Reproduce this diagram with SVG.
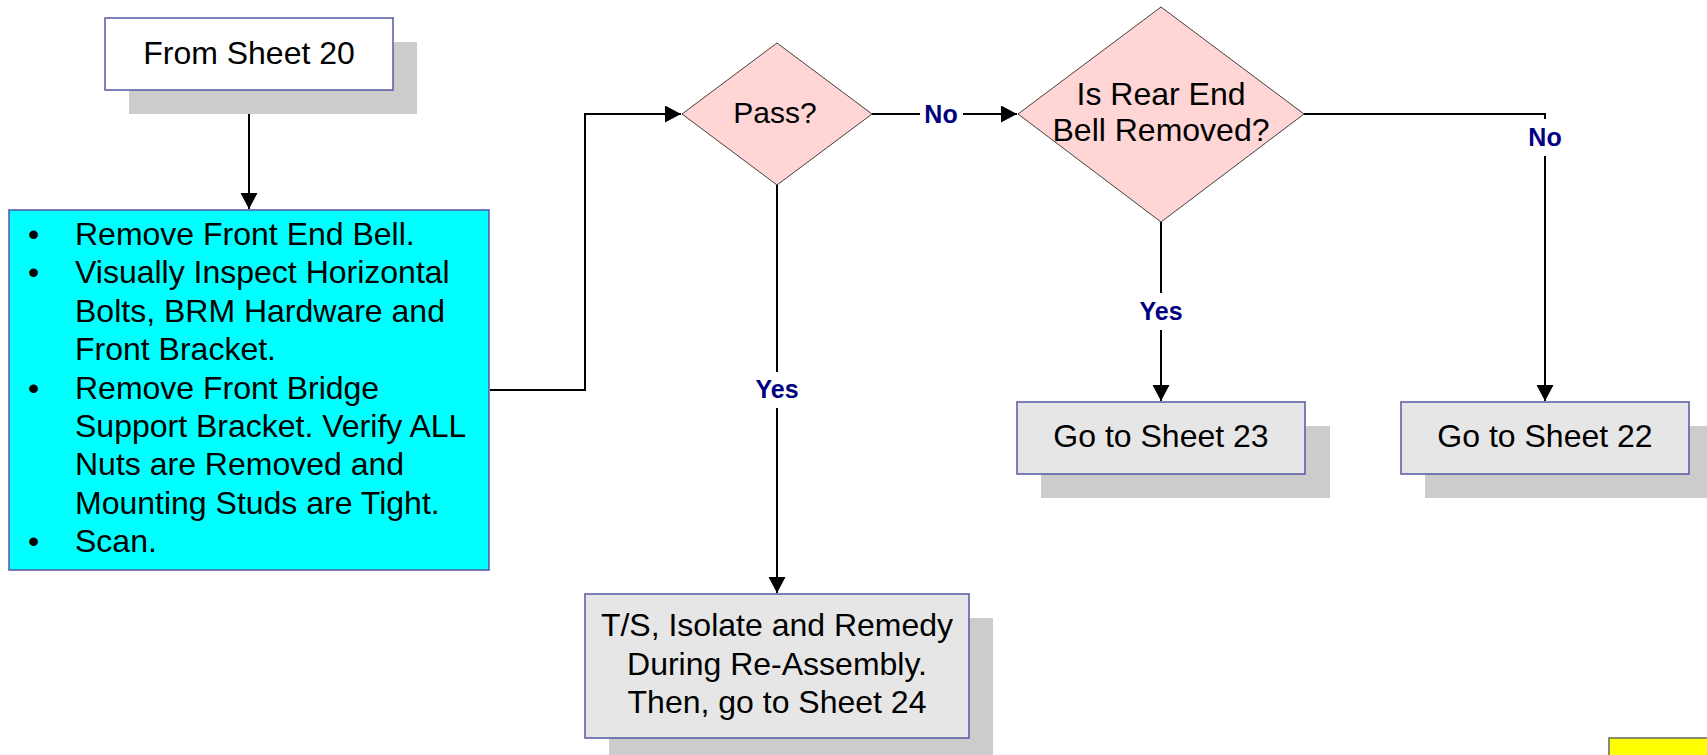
<svg xmlns="http://www.w3.org/2000/svg" width="1707" height="755" viewBox="0 0 1707 755">
<defs>
<style>
.shadow{fill:#cccccc;stroke:none}
.box{stroke:#5656a8;stroke-width:1.5}
.white{fill:#ffffff}
.gray{fill:#e6e6e6}
.cyan{fill:#00ffff}
.dia{fill:#ffd5d5;stroke:#404040;stroke-width:1}
.t{font-family:"Liberation Sans",Arial,sans-serif;font-size:32px;fill:#000000}
.c{text-anchor:middle}
.lbl{font-family:"Liberation Sans",Arial,sans-serif;font-size:25px;font-weight:bold;fill:#000080;text-anchor:middle}
.ln{fill:none;stroke:#000000;stroke-width:2}
</style>
<marker id="arr" markerUnits="userSpaceOnUse" markerWidth="17" markerHeight="17" refX="16" refY="8.5" orient="auto" viewBox="0 0 17 17">
<path d="M0,0 L16,8.5 L0,17 Z" fill="#000000"/>
</marker>
</defs>
<rect width="1707" height="755" fill="#ffffff"/>

<g id="connectors">
<path class="ln" d="M249,114 L249,209" marker-end="url(#arr)"/>
<path class="ln" d="M490,390 L585,390 L585,114 L681,114" marker-end="url(#arr)"/>
<path class="ln" d="M872,114 L920,114"/>
<path class="ln" d="M963,114 L1017,114" marker-end="url(#arr)"/>
<path class="ln" d="M777,185 L777,372"/>
<path class="ln" d="M777,408 L777,593" marker-end="url(#arr)"/>
<path class="ln" d="M1161,222 L1161,293"/>
<path class="ln" d="M1161,330 L1161,401" marker-end="url(#arr)"/>
<path class="ln" d="M1304,114 L1545,114 L1545,119"/>
<path class="ln" d="M1545,156 L1545,401" marker-end="url(#arr)"/>
<text class="lbl" x="941" y="123">No</text>
<text class="lbl" x="777" y="398">Yes</text>
<text class="lbl" x="1161" y="320">Yes</text>
<text class="lbl" x="1545" y="146">No</text>
</g>

<g id="from20">
<rect class="shadow" x="129" y="42" width="288" height="72"/>
<rect class="box white" x="105" y="18" width="288" height="72"/>
<text class="t c" x="249" y="64">From Sheet 20</text>
</g>

<g id="steps">
<rect class="box cyan" x="9" y="210" width="480" height="360"/>
<text class="t" x="28" y="245">•</text>
<text class="t" x="75" y="245">Remove Front End Bell.</text>
<text class="t" x="28" y="283.4">•</text>
<text class="t" x="75" y="283.4">Visually Inspect Horizontal</text>
<text class="t" x="75" y="321.8">Bolts, BRM Hardware and</text>
<text class="t" x="75" y="360.2">Front Bracket.</text>
<text class="t" x="28" y="398.6">•</text>
<text class="t" x="75" y="398.6">Remove Front Bridge</text>
<text class="t" x="75" y="437">Support Bracket. Verify ALL</text>
<text class="t" x="75" y="475.4">Nuts are Removed and</text>
<text class="t" x="75" y="513.8">Mounting Studs are Tight.</text>
<text class="t" x="28" y="552.2">•</text>
<text class="t" x="75" y="552.2">Scan.</text>
</g>

<g id="pass">
<polygon class="dia" points="777,43 872,114 777,185 682,114"/>
<text class="t c" x="775" y="123" style="font-size:30px">Pass?</text>
</g>

<g id="rear">
<polygon class="dia" points="1161,7 1304,114 1161,222 1018,114"/>
<text class="t c" x="1161" y="105">Is Rear End</text>
<text class="t c" x="1161" y="141">Bell Removed?</text>
</g>

<g id="ts">
<rect class="shadow" x="609" y="618" width="384" height="137"/>
<rect class="box gray" x="585" y="594" width="384" height="144"/>
<text class="t c" x="777" y="636">T/S, Isolate and Remedy</text>
<text class="t c" x="777" y="675">During Re-Assembly.</text>
<text class="t c" x="777" y="713">Then, go to Sheet 24</text>
</g>

<g id="sheet23">
<rect class="shadow" x="1041" y="426" width="289" height="72"/>
<rect class="box gray" x="1017" y="402" width="288" height="72"/>
<text class="t c" x="1161" y="447">Go to Sheet 23</text>
</g>

<g id="sheet22">
<rect class="shadow" x="1425" y="426" width="288" height="72"/>
<rect class="box gray" x="1401" y="402" width="288" height="72"/>
<text class="t c" x="1545" y="447">Go to Sheet 22</text>
</g>

<g id="yellow">
<rect x="1609" y="738" width="110" height="30" fill="#ffff00" stroke="#666666" stroke-width="1.5"/>
</g>
</svg>
